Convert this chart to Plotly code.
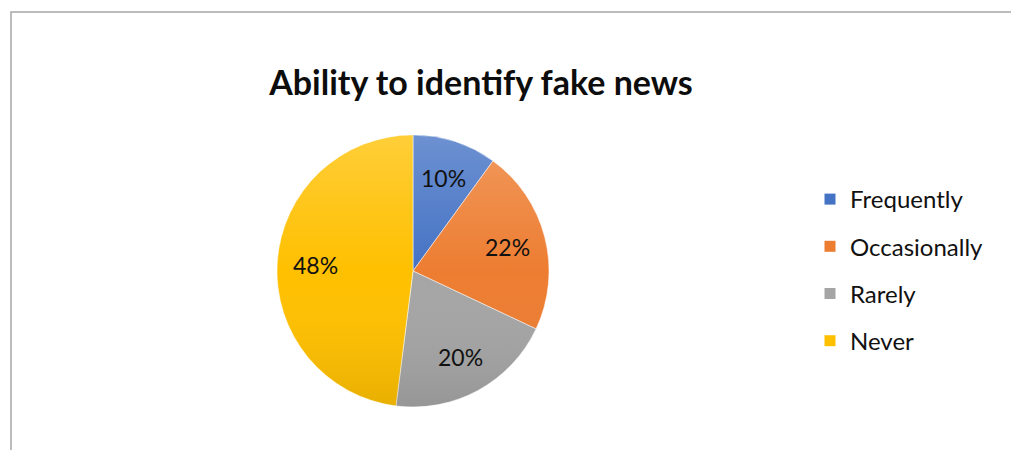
import base64
import math
import plotly.graph_objects as go

# Survey responses: how often respondents can identify fake news
categories = ["Frequently", "Occasionally", "Rarely", "Never"]
shares = [10, 22, 20, 48]
colors = ["#4472C4", "#ED7D31", "#A5A5A5", "#FFC000"]

W, H = 1011, 450
FONT = "Lato"

# Pie placement in pixels (centre and radius)
CX, CY, R = 413, 271, 136
LABEL_R = 0.72 * R

fig = go.Figure()

fig.add_trace(go.Pie(
    labels=categories,
    values=shares,
    marker=dict(colors=colors, line=dict(color="white", width=0.5)),
    sort=False,
    direction="clockwise",
    rotation=0,
    textinfo="none",
    domain=dict(x=[(CX - R) / W, (CX + R) / W], y=[(H - CY - R) / H, (H - CY + R) / H]),
    showlegend=False,
    hoverinfo="label+percent",
))

# Soft vertical shading over the pie: lighter at the top, darker at the bottom
svg = (
    '<svg xmlns="http://www.w3.org/2000/svg" width="272" height="272" viewBox="0 0 272 272">'
    '<defs><linearGradient id="g" x1="0" y1="0" x2="0" y2="1">'
    '<stop offset="0" stop-color="#ffffff" stop-opacity="0.22"/>'
    '<stop offset="0.5" stop-color="#ffffff" stop-opacity="0"/>'
    '<stop offset="1" stop-color="#000000" stop-opacity="0.09"/>'
    '</linearGradient></defs>'
    '<circle cx="136" cy="136" r="135.5" fill="url(#g)"/></svg>'
)
shade_src = "data:image/svg+xml;base64," + base64.b64encode(svg.encode()).decode()

# Percentage labels placed along each slice's middle angle
total = sum(shares)
annotations = []
cum = 0.0
for v in shares:
    mid = (cum + v / 2) / total * 2 * math.pi
    cum += v
    px = CX + LABEL_R * math.sin(mid)
    py = CY - LABEL_R * math.cos(mid)
    annotations.append(dict(
        x=px / W, y=1 - py / H, xref="paper", yref="paper",
        text=f"{round(v / total * 100)}%", showarrow=False,
        xanchor="center", yanchor="middle",
        font=dict(family=FONT, size=23, color="#111111"),
    ))

# Legend entries, one group each so the rows can be spaced apart
for name, col in zip(categories, colors):
    fig.add_trace(go.Scatter(
        x=[None], y=[None], mode="markers", name=name,
        legendgroup=name,
        marker=dict(symbol="square", size=11, color=col),
    ))

fig.update_layout(
    width=W, height=H,
    margin=dict(l=0, r=0, t=0, b=0),
    paper_bgcolor="white",
    plot_bgcolor="white",
    xaxis=dict(visible=False),
    yaxis=dict(visible=False),
    title=dict(
        text="<b>Ability to identify fake news</b>",
        x=481 / W, xanchor="center",
        y=1 - 83 / H, yanchor="middle",
        font=dict(family=FONT, size=34, color="#0d0d0d"),
    ),
    legend=dict(
        x=810 / W, xanchor="left",
        y=1 - 177 / H, yanchor="top",
        font=dict(family=FONT, size=24, color="#111111"),
        tracegroupgap=13,
        bgcolor="rgba(0,0,0,0)",
    ),
    annotations=annotations,
    images=[dict(
        source=shade_src, xref="paper", yref="paper",
        x=(CX - R) / W, y=1 - (CY - R) / H,
        sizex=2 * R / W, sizey=2 * R / H,
        xanchor="left", yanchor="top", sizing="stretch", layer="above",
    )],
    shapes=[dict(
        type="rect", xref="paper", yref="paper",
        x0=11 / W, x1=1.02, y0=-0.05, y1=1 - 12 / H,
        line=dict(color="#a6a6a6", width=1.5),
    )],
)

fig.write_html("out.html")
